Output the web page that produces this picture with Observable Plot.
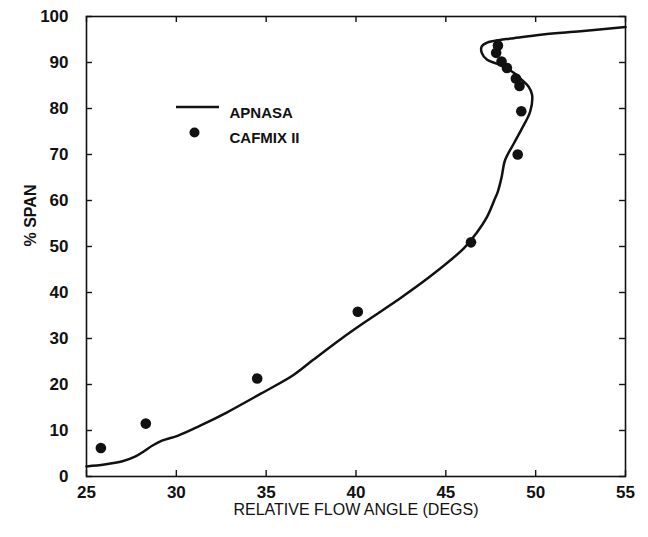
<!DOCTYPE html>
<html>
<head>
<meta charset="utf-8">
<script src="https://cdn.jsdelivr.net/npm/d3@7"></script>
<script src="https://cdn.jsdelivr.net/npm/@observablehq/plot@0.6"></script>
<style>
  html, body { margin: 0; padding: 0; background: #fff; }
  svg { font-family: "Liberation Sans Narrow", "Liberation Sans", Arial, sans-serif; }
</style>
</head>
<body>
<div id="chart"></div>
<script>
// APNASA line (relative flow angle, % span)
const apnasaAngle = [25.0, 26.0, 27.0, 27.7, 28.2, 28.7, 29.2, 30.1, 31.3, 32.8, 34.7, 36.5, 37.6, 39.2, 40.4, 42.3, 44.1, 46.0, 46.7, 47.3, 47.7, 47.9, 48.1, 48.3, 48.8, 49.3, 49.7, 49.8, 49.6, 49.2, 48.8, 48.0, 47.3, 47.0, 47.0, 47.3, 48.0, 48.6, 50.4, 52.5, 55.0];
const apnasaSpan  = [2.2, 2.6, 3.3, 4.3, 5.5, 6.8, 7.8, 8.9, 11.0, 13.9, 18.0, 22.0, 25.3, 30.0, 33.3, 38.3, 43.4, 49.6, 52.9, 56.5, 60.1, 62.0, 65.0, 68.8, 72.5, 76.1, 79.4, 83.0, 84.8, 86.3, 87.7, 89.5, 90.6, 92.1, 93.5, 94.3, 94.9, 95.2, 96.1, 96.8, 97.7];

// CAFMIX II points
const cafmixAngle = [25.8, 28.3, 34.5, 40.1, 46.4, 49.0, 49.2, 49.1, 48.9, 48.4, 48.1, 47.8, 47.9];
const cafmixSpan  = [6.2, 11.5, 21.3, 35.8, 50.9, 70.0, 79.4, 84.9, 86.5, 88.8, 90.2, 92.1, 93.7];

const xTicks = [25, 30, 35, 40, 45, 50, 55];
const yTicks = [0, 10, 20, 30, 40, 50, 60, 70, 80, 90, 100];
const seriesNames = ["APNASA", "CAFMIX II"];
const xLabel = "RELATIVE FLOW ANGLE (DEGS)";
const yLabel = "% SPAN";

const apnasa = apnasaAngle.map((x, i) => ({x, y: apnasaSpan[i]}));
const cafmix = cafmixAngle.map((x, i) => ({x, y: cafmixSpan[i]}));

const ink = "#111";
const chart = Plot.plot({
  width: 648,
  height: 537,
  marginLeft: 86,
  marginRight: 23,
  marginTop: 16,
  marginBottom: 61,
  style: {fontSize: "17px", fontWeight: "bold", color: ink, background: "#fff"},
  x: {domain: [25, 55], ticks: xTicks},
  y: {domain: [0, 100], ticks: yTicks},
  marks: [
    Plot.frame({stroke: ink, strokeWidth: 1.6}),
    // inward ticks on all four sides
    Plot.ruleX(xTicks, {x: d => d, y1: 0, y2: 1.3, stroke: ink, strokeWidth: 1.4}),
    Plot.ruleX(xTicks, {x: d => d, y1: 100, y2: 98.7, stroke: ink, strokeWidth: 1.4}),
    Plot.ruleY(yTicks, {y: d => d, x1: 25, x2: 25.33, stroke: ink, strokeWidth: 1.4}),
    Plot.ruleY(yTicks, {y: d => d, x1: 55, x2: 54.67, stroke: ink, strokeWidth: 1.4}),
    Plot.axisX(xTicks, {anchor: "bottom", tickSize: 0, tickPadding: 9, label: null, fontSize: 17, fontWeight: "bold"}),
    Plot.axisY(yTicks, {anchor: "left", tickSize: 0, tickPadding: 18, label: null, fontSize: 17, fontWeight: "bold"}),
    Plot.text([xLabel], {frameAnchor: "bottom", dy: 38, text: d => d, fontSize: 16, fontWeight: "normal", fill: ink}),
    Plot.text([yLabel], {frameAnchor: "left", dx: -56, rotate: -90, text: d => d, fontSize: 16, fontWeight: "bold", fill: ink}),
    Plot.line(apnasa, {x: "x", y: "y", curve: "catmull-rom", stroke: ink, strokeWidth: 2.5}),
    Plot.dot(cafmix, {x: "x", y: "y", r: 5.3, fill: ink, stroke: "none"}),
    // legend
    Plot.text([seriesNames[0]], {frameAnchor: "top-left", dx: 143, dy: 91, text: d => d, textAnchor: "start", fontSize: 15, fontWeight: "bold", fill: ink}),
    Plot.text([seriesNames[1]], {frameAnchor: "top-left", dx: 143, dy: 116, text: d => d, textAnchor: "start", fontSize: 15, fontWeight: "bold", fill: ink}),
    Plot.dot([0], {frameAnchor: "top-left", dx: 108, dy: 116, r: 5, fill: ink})
  ]
});
document.getElementById("chart").appendChild(chart);

// legend line sample for APNASA
d3.select(chart).append("line")
  .attr("x1", 86 + 90).attr("x2", 86 + 133)
  .attr("y1", 16 + 91).attr("y2", 16 + 91)
  .attr("stroke", ink).attr("stroke-width", 2.5);
</script>
</body>
</html>
